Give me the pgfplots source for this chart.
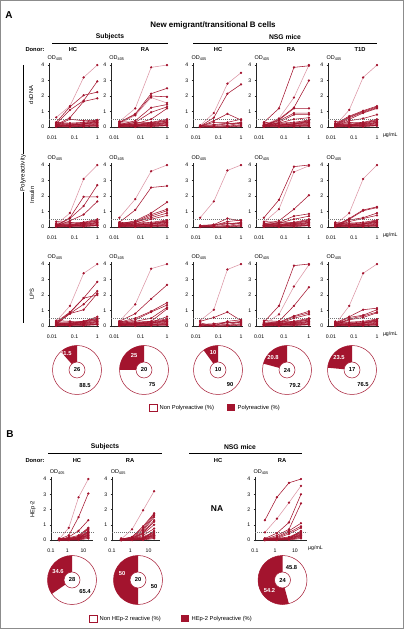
\documentclass[border=0pt]{standalone}
\usepackage{fontspec}
\setmainfont{Liberation Sans}
\usepackage{pgfplots}
\pgfplotsset{compat=1.18}
\definecolor{rdark}{RGB}{163,20,46}
\definecolor{rlight}{RGB}{220,150,165}
\newcommand\fs[1]{\fontsize{#1}{#1}\selectfont}
\pgfplotsset{
 myaxbase/.style={scale only axis, anchor=south west, ymin=0, ymax=4.1, clip=false,
   axis x line=bottom, axis y line=left, axis line style={-, line width=0.6bp, draw=black!85},
   ytick={0,1,2,3,4}, log ticks with fixed point,
   xminorticks=false, tick align=outside, major tick length=1.5bp,
   tick style={line width=0.4bp, draw=black!85},
   ticklabel style={font=\fs{5.2}}, /pgf/number format/assume math mode=true,
   xticklabel style={yshift=-4bp}, yticklabel style={xshift=0.3bp}},
 seriesdark/.style={draw=rdark, line width=0.55bp, mark=*, mark size=0.85bp, mark options={fill=rdark, draw=rdark, solid}},
 serieslight/.style={draw=rlight, line width=0.55bp, mark=*, mark size=0.85bp, mark options={fill=rdark, draw=rdark, solid}},
}
\newcommand\Ln[5][seriesdark]{\addplot[#1] coordinates {(0.0156,#2) (0.0625,#3) (0.25,#4) (1,#5)};}
\newcommand\Lb[5][seriesdark]{\addplot[#1] coordinates {(0.3125,#2) (1.25,#3) (5,#4) (20,#5)};}
\newcommand\THR{\addplot[black!55, line width=0.4bp, dash pattern=on 1bp off 1bp] coordinates {(0.0075,0.5) (1.2,0.5)};}
\newcommand\THRb{\addplot[black!55, line width=0.4bp, dash pattern=on 1bp off 1bp] coordinates {(0.1,0.5) (40,0.5)};}
\newcommand\OD{\node[anchor=south west, inner sep=0pt, font=\fs{5.5}] at (rel axis cs:-0.03,1.04) {OD\textsubscript{405}};}
\newcommand\UG{\node[anchor=west, inner sep=0pt, font=\fs{5.2}, xshift=4bp, yshift=-8.5bp] at (rel axis cs:1,0) {µg/mL};}
\newcommand\lowA{%
\Ln{0.3}{0.25}{0.3}{0.45}\Ln{0.25}{0.2}{0.25}{0.4}\Ln{0.2}{0.15}{0.2}{0.35}
\Ln{0.15}{0.1}{0.15}{0.3}\Ln{0.1}{0.1}{0.1}{0.25}\Ln{0.1}{0.05}{0.05}{0.2}
\Ln{0.05}{0.05}{0.1}{0.15}\Ln{0.05}{0}{0.05}{0.1}\Ln{0}{0.02}{0.02}{0.05}
\Ln{0.02}{0.1}{0.2}{0.3}\Ln{0.15}{0.2}{0.1}{0.1}\Ln{0.08}{0.12}{0.18}{0.4}}
\newcommand\lowB{%
\Ln{0.35}{0.3}{0.2}{0.3}\Ln{0.25}{0.25}{0.3}{0.35}\Ln{0.2}{0.2}{0.15}{0.25}
\Ln{0.15}{0.15}{0.2}{0.4}\Ln{0.1}{0.08}{0.12}{0.2}\Ln{0.05}{0.1}{0.15}{0.3}
\Ln{0.05}{0.03}{0.05}{0.12}\Ln{0.02}{0}{0.02}{0.08}\Ln{0}{0.05}{0.1}{0.15}
\Ln{0.12}{0.1}{0.25}{0.45}\Ln{0.18}{0.12}{0.08}{0.1}\Ln{0.1}{0.15}{0.3}{0.5}}
\newcommand\lowS{%
\Ln{0.1}{0.1}{0.2}{0.3}\Ln{0.05}{0.05}{0.1}{0.25}\Ln{0}{0.05}{0.05}{0.15}
\Ln{0.05}{0}{0.02}{0.1}\Ln{0}{0}{0}{0.05}\Ln{0.1}{0.15}{0.25}{0.2}}
\newcommand\lowH{%
\Lb{0.1}{0.1}{0.15}{0.5}\Lb{0.05}{0.05}{0.1}{0.4}\Lb{0}{0.05}{0.1}{0.35}
\Lb{0}{0}{0.05}{0.3}\Lb{0.02}{0.02}{0.05}{0.25}\Lb{0}{0}{0.02}{0.2}
\Lb{0.05}{0.1}{0.2}{0.55}\Lb{0}{0.05}{0.15}{0.45}\Lb{0}{0}{0}{0.1}
\Lb{0.1}{0.05}{0.05}{0.15}\Lb{0}{0.02}{0.08}{0.6}\Lb{0.03}{0.05}{0.12}{0.3}}
% axis A: x-left, y-bottom, width
\newcommand\AxA[3]{\begin{axis}[myaxbase, xmode=log, xtick={0.01,0.1,1}, xmin=0.0075, xmax=1.2, height=63.5bp, at={(#1bp,#2bp)}, width=#3bp]}
\newcommand\AxB[3]{\begin{axis}[myaxbase, xmode=log, xtick={0.1,1,10}, xmin=0.1, xmax=40, height=62.5bp, at={(#1bp,#2bp)}, width=#3bp]}
% donut: cx, cy, poly %, n, non %, poly label dx, dy, non label dx, dy
\newcommand\donut[9]{%
\begin{axis}[hide axis, scale only axis, width=50bp, height=50bp, xmin=-1, xmax=1, ymin=-1, ymax=1,
  anchor=center, at={(#1bp,#2bp)}, clip=false]
 \draw[rdark, line width=0.5bp, fill=white] (axis cs:0,0) circle[radius=24.5bp];
 \fill[rdark] (axis cs:0,0) -- ++(90:24.5bp) arc[start angle=90, delta angle={3.6*#3}, radius=24.5bp] -- cycle;
 \draw[rdark, line width=0.5bp, fill=white] (axis cs:0,0) circle[radius=8bp];
 \node[font=\fs{5.8}\bfseries] at (axis cs:0,0) {#4};
 \node[font=\fs{5.8}\bfseries, text=white] at (axis cs:{#6/25},{#7/25}) {#3};
 \node[font=\fs{5.8}\bfseries] at (axis cs:{#8/25},{#9/25}) {#5};
\end{axis}}
\begin{document}
\begin{tikzpicture}
\path[use as bounding box] (0,0) rectangle (404bp,629bp);
\draw[black!45, line width=1bp] (0.5bp,0.5bp) rectangle (403.5bp,628.5bp);
% ---------- Panel A headers
\node[font=\fs{10}\bfseries] at (9bp,614bp) {A};
\node[font=\fs{8}\bfseries] at (213bp,604bp) {New emigrant/transitional B cells};
\node[font=\fs{6.8}\bfseries] at (110bp,592bp) {Subjects};
\node[font=\fs{6.8}\bfseries] at (285bp,592bp) {NSG mice};
\draw[line width=0.7bp] (52bp,586bp) -- (168bp,586bp);
\draw[line width=0.7bp] (193bp,586bp) -- (377bp,586bp);
\foreach \x/\t in {35/Donor:,73/HC,145/RA,218/HC,291/RA,360/T1D}
  \node[font=\fs{5.8}\bfseries] at (\x bp,579bp) {\t};
\draw[line width=0.6bp] (23bp,564bp) -- (23bp,306bp);
\node[rotate=90, fill=white, inner sep=1bp, font=\fs{6.2}] at (23bp,456bp) {Polyreactivity};
\node[rotate=90, font=\fs{5.8}] at (31bp,534bp) {dsDNA};
\node[rotate=90, font=\fs{5.8}] at (32bp,434bp) {Insulin};
\node[rotate=90, font=\fs{5.8}] at (32bp,335bp) {LPS};
% ---------- Row 1: dsDNA
\AxA{49}{502}{50.1}
\lowA
\Ln[serieslight]{0.62}{1.35}{3.2}{4.0}\Ln{0.3}{1.3}{2.05}{2.25}\Ln{0.2}{1.1}{1.7}{2.95}
\Ln{0.15}{0.6}{1.65}{1.85}\Ln{0.1}{0.5}{0.4}{0.45}
\THR\OD
\end{axis}
\AxA{111}{502}{58.1}
\lowB
\Ln[serieslight]{0.35}{1.2}{3.85}{4.0}\Ln{0.3}{0.85}{2.15}{2.5}\Ln{0.25}{0.8}{2.0}{1.95}
\Ln[serieslight]{0.2}{0.75}{1.9}{1.55}\Ln{0.15}{0.4}{1.25}{1.45}\Ln{0.1}{0.3}{0.95}{1.3}\Ln{0.1}{0.2}{0.5}{1.2}
\THR\OD
\end{axis}
\AxA{193}{502}{49.8}
\lowS
\Ln[serieslight]{0.1}{0.9}{2.8}{3.5}\Ln{0.05}{0.6}{2.15}{2.75}\Ln{0.05}{0.4}{0.85}{0.45}\Ln{0.05}{0.3}{0.3}{0.5}
\THR\OD
\end{axis}
\AxA{256}{502}{54.9}
\lowA
\Ln{0.3}{1.2}{3.85}{3.95}\Ln[serieslight]{0.15}{0.55}{1.9}{4.0}\Ln{0.1}{0.5}{1.25}{3.0}
\Ln{0.1}{0.45}{1.2}{1.2}\Ln{0.1}{0.4}{0.9}{0.9}\Ln{0.05}{0.3}{0.8}{0.8}\Ln{0.05}{0.25}{0.5}{0.6}
\THR\OD
\end{axis}
\AxA{328}{502}{50.8}
\lowB
\Ln[serieslight]{0.1}{1.1}{3.2}{4.0}\Ln{0.2}{0.7}{1.05}{1.35}\Ln{0.15}{0.65}{1.0}{1.3}
\Ln{0.1}{0.6}{0.95}{1.25}\Ln{0.1}{0.5}{0.9}{1.2}\Ln{0.05}{0.4}{0.55}{0.8}
\THR\OD\UG
\end{axis}
% ---------- Row 2: Insulin
\AxA{49}{402}{50.1}
\lowB
\Ln[serieslight]{0.15}{0.9}{3.1}{4.0}\Ln{0.1}{0.6}{1.95}{1.95}\Ln{0.1}{0.55}{1.35}{2.7}\Ln{0.05}{0.4}{0.8}{1.65}
\THR\OD
\end{axis}
\AxA{111}{402}{58.1}
\lowA
\Ln[serieslight]{0.6}{1.8}{3.6}{4.0}\Ln{0.3}{1.1}{2.55}{2.65}\Ln{0.2}{0.4}{0.9}{1.6}
\Ln{0.2}{0.35}{0.8}{1.15}\Ln{0.15}{0.3}{0.7}{1.05}\Ln{0.1}{0.3}{0.6}{0.9}\Ln{0.1}{0.2}{0.5}{0.75}
\THR\OD
\end{axis}
\AxA{193}{402}{49.8}
\lowS
\Ln[serieslight]{0.6}{1.65}{3.65}{4.0}\Ln{0.05}{0.15}{0.55}{0.4}\Ln{0}{0.1}{0.35}{0.45}
\THR\OD
\end{axis}
\AxA{256}{402}{54.9}
\lowB
\Ln{0.6}{1.75}{3.9}{4.0}\Ln[serieslight]{0.3}{1.15}{3.55}{3.95}\Ln{0.2}{0.4}{1.15}{2.05}
\Ln{0.1}{0.3}{0.7}{0.85}\Ln{0.1}{0.25}{0.5}{0.7}
\THR\OD
\end{axis}
\AxA{328}{402}{50.8}
\lowA
\Ln[serieslight]{0.15}{0.9}{3.1}{4.0}\Ln{0.1}{0.55}{1.1}{1.3}\Ln{0.1}{0.5}{1.05}{1.25}
\Ln{0.05}{0.45}{0.6}{0.9}\Ln{0.05}{0.35}{0.55}{0.75}
\THR\OD\UG
\end{axis}
% ---------- Row 3: LPS
\AxA{49}{303}{50.1}
\lowB
\Ln[serieslight]{0.3}{1.3}{3.4}{4.0}\Ln{0.25}{0.9}{1.8}{2.85}\Ln{0.2}{0.85}{1.8}{2.0}
\Ln{0.15}{0.8}{1.4}{2.25}\Ln{0.1}{0.8}{1.05}{2.1}\Ln{0.1}{0.2}{0.3}{0.6}\Ln{0.05}{0.15}{0.3}{0.5}
\THR\OD
\end{axis}
\AxA{111}{303}{58.1}
\lowA
\Ln[serieslight]{0.3}{1.4}{3.7}{4.0}\Ln{0.3}{0.8}{1.75}{2.65}\Ln{0.25}{0.5}{0.95}{1.5}
\Ln{0.2}{0.4}{0.9}{1.35}\Ln{0.15}{0.3}{0.5}{1.2}\Ln{0.1}{0.2}{0.3}{1.1}\Ln{0.1}{0.15}{0.25}{0.6}
\THR\OD
\end{axis}
\AxA{193}{303}{49.8}
\lowS
\Ln[serieslight]{0.35}{1.05}{3.65}{4.0}\Ln{0.3}{0.55}{0.9}{0.35}\Ln{0.2}{0}{0.3}{0.4}
\THR\OD
\end{axis}
\AxA{256}{303}{54.9}
\lowB
\Ln{0.25}{1.3}{3.9}{4.0}\Ln[serieslight]{0.1}{0.75}{2.55}{3.95}\Ln{0.15}{0.3}{1.3}{2.5}
\Ln{0.1}{0.25}{0.65}{0.95}\Ln{0.1}{0.2}{0.6}{0.85}\Ln{0.05}{0.15}{0.5}{0.75}
\THR\OD
\end{axis}
\AxA{328}{303}{50.8}
\lowA
\Ln[serieslight]{0.1}{1.3}{3.4}{4.0}\Ln{0.2}{0.6}{1.05}{1.15}\Ln{0.15}{0.55}{0.7}{1.05}
\Ln{0.1}{0.45}{0.65}{0.9}\Ln{0.1}{0.4}{0.55}{0.85}
\THR\OD\UG
\end{axis}
% ---------- Donuts A
\donut{77}{259}{11.5}{26}{88.5}{-11}{16}{8}{-16}
\donut{144}{259}{25}{20}{75}{-10}{14}{8}{-15}
\donut{218}{259}{10}{10}{90}{-5}{17}{12}{-15}
\donut{287}{259}{20.8}{24}{79.2}{-14}{12}{8}{-16}
\donut{352}{259}{23.5}{17}{76.5}{-13}{12}{11}{-15}
% legend A
\draw[rdark, line width=0.6bp, fill=white] (149bp,217.5bp) rectangle (157bp,224.5bp);
\node[anchor=west, font=\fs{5.8}, inner sep=0pt] at (159.5bp,221bp) {Non Polyreactive (\%)};
\fill[rdark] (227bp,217.5bp) rectangle (235bp,224.5bp);
\node[anchor=west, font=\fs{5.8}, inner sep=0pt] at (237.5bp,221bp) {Polyreactive (\%)};
% ---------- Panel B
\node[font=\fs{10}\bfseries] at (10bp,195bp) {B};
\node[font=\fs{6.8}\bfseries] at (105bp,182bp) {Subjects};
\node[font=\fs{6.8}\bfseries] at (240bp,182bp) {NSG mice};
\draw[line width=0.7bp] (48bp,176bp) -- (162bp,176bp);
\draw[line width=0.7bp] (189bp,176bp) -- (302bp,176bp);
\foreach \x/\t in {35/Donor:,77/HC,130/RA,218/HC,282/RA}
  \node[font=\fs{5.8}\bfseries] at (\x bp,168bp) {\t};
\node[font=\fs{8.5}\bfseries] at (217bp,120bp) {NA};
\node[rotate=90, font=\fs{5.8}] at (33bp,120bp) {HEp-2};
\AxB{51}{89}{42.2}
\lowH
\Lb[serieslight]{0.05}{0.8}{2.8}{4.0}\Lb{0.05}{0.3}{1.5}{3.05}\Lb{0}{0.2}{0.6}{1.3}
\Lb{0}{0.15}{0.3}{0.8}\Lb{0}{0.1}{0.25}{0.75}\Lb{0}{0.1}{0.2}{0.7}
\THRb\OD
\end{axis}
\AxB{112}{89}{47.6}
\lowH
\Lb[serieslight]{0.05}{0.7}{1.95}{3.2}\Lb{0.05}{0.2}{0.9}{1.75}\Lb{0.05}{0.2}{0.8}{1.7}
\Lb{0}{0.15}{0.7}{1.6}\Lb{0}{0.1}{0.6}{1.5}\Lb{0}{0.1}{0.5}{1.3}\Lb{0}{0.1}{0.45}{1.2}
\Lb{0}{0.05}{0.4}{1.0}\Lb{0}{0.05}{0.3}{0.75}
\THRb\OD
\end{axis}
\AxB{255}{89}{52}
\lowH
\Lb{1.3}{2.8}{3.75}{4.0}\Lb[serieslight]{0.5}{1.4}{2.45}{3.55}\Lb{0.1}{0.45}{1.15}{3.0}
\Lb{0.05}{0.3}{0.7}{2.4}\Lb{0.05}{0.2}{0.6}{1.1}\Lb{0}{0.15}{0.5}{0.9}\Lb{0}{0.1}{0.4}{0.8}
\THRb\OD
\node[anchor=west, inner sep=0pt, font=\fs{5.2}, xshift=1bp, yshift=-8.5bp] at (rel axis cs:1,0) {µg/mL};
\end{axis}
% ---------- Donuts B
\donut{72}{49}{34.6}{28}{65.4}{-14}{8}{13}{-12}
\donut{138}{49}{50}{20}{50}{-16}{6}{16}{-7}
\donut{282.5}{49}{54.2}{24}{45.8}{-13}{-11}{9}{12}
% legend B
\draw[rdark, line width=0.6bp, fill=white] (89bp,6.5bp) rectangle (97bp,13.5bp);
\node[anchor=west, font=\fs{5.8}, inner sep=0pt] at (99.5bp,10bp) {Non HEp-2 reactive (\%)};
\fill[rdark] (181bp,6.5bp) rectangle (189bp,13.5bp);
\node[anchor=west, font=\fs{5.8}, inner sep=0pt] at (191.5bp,10bp) {HEp-2 Polyreactive (\%)};
\end{tikzpicture}
\end{document}
